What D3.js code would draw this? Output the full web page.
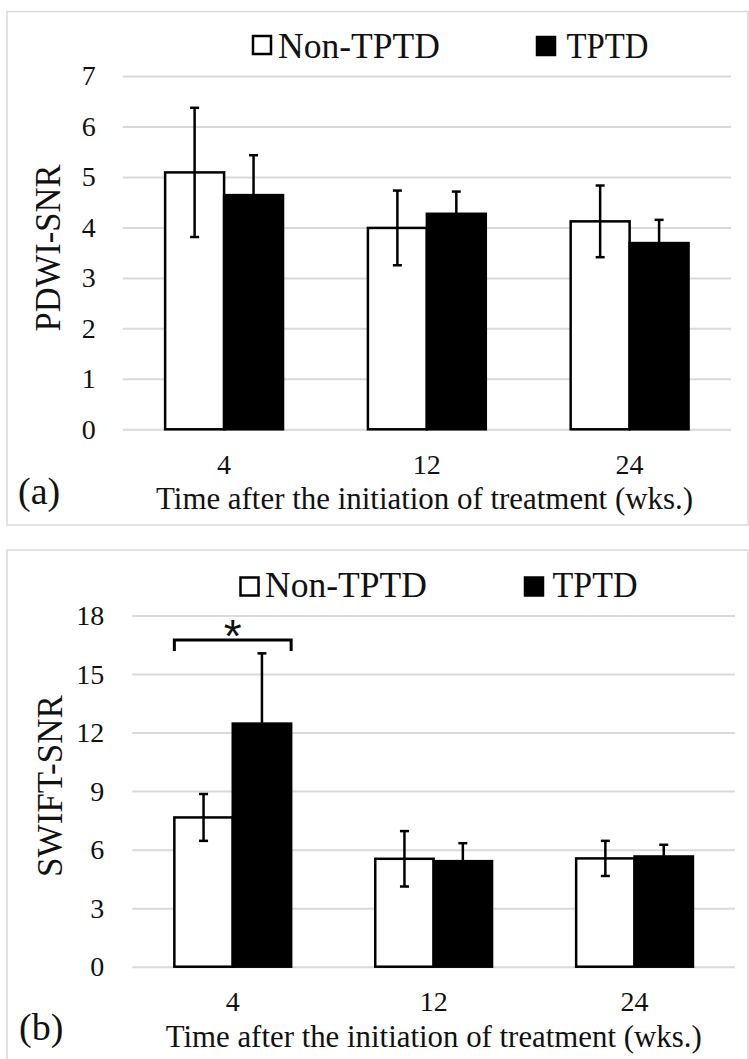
<!DOCTYPE html>
<html>
<head>
<meta charset="utf-8">
<script src="https://cdn.jsdelivr.net/npm/d3@7"></script>
<style>
  body { margin: 0; background: #fff; }
  text { font-family: "Liberation Serif", "Times New Roman", serif; fill: #111; }
</style>
</head>
<body>
<script>
// values: mean and SD for each time point
var weeks = ["4", "12", "24"];
var groups = ["Non-TPTD", "TPTD"];

var pdwiNon = [5.09, 3.99, 4.12];
var pdwiNonSd = [1.28, 0.74, 0.71];
var pdwiTptd = [4.64, 4.27, 3.69];
var pdwiTptdSd = [0.79, 0.44, 0.46];
var pdwiTicks = [0, 1, 2, 3, 4, 5, 6, 7];

var swiftNon = [7.65, 5.53, 5.55];
var swiftNonSd = [1.2, 1.42, 0.9];
var swiftTptd = [12.46, 5.41, 5.65];
var swiftTptdSd = [3.6, 0.92, 0.6];
var swiftTicks = [0, 3, 6, 9, 12, 15, 18];

// significance bracket drawn in (b)
var swiftSig = [{week: "4", level: 16.75, mark: "*"}];

var xTitle = "Time after the initiation of treatment (wks.)";

var W = 749, H = 1059;
var svg = d3.select("body").append("svg")
    .attr("width", W)
    .attr("height", H);

function panel(o) {
  var g = svg.append("g");

  // light grey frame round each panel
  g.append("rect")
    .attr("x", o.frame[0]).attr("y", o.frame[1])
    .attr("width", o.frame[2]).attr("height", o.frame[3])
    .attr("fill", "none")
    .attr("stroke", "#d9d9d9")
    .attr("stroke-width", 1.5);

  var x = d3.scaleBand().domain(weeks).range([o.left, o.right]);
  var barW = x.bandwidth() / (2 + 1.44);   // excel gap width ~144%
  var off = (x.bandwidth() - 2 * barW) / 2;
  var x1 = d3.scaleBand().domain(groups).range([0, 2 * barW]);
  var y = d3.scaleLinear().domain([0, d3.max(o.ticks)]).range([o.bottom, o.top]);

  // y axis + gridlines
  var ya = g.append("g")
    .attr("transform", "translate(" + o.left + ",0)")
    .call(d3.axisLeft(y).tickValues(o.ticks).tickFormat(d3.format("d"))
      .tickSize(-(o.right - o.left)).tickPadding(o.tickPad));
  ya.select(".domain").remove();
  ya.selectAll("line").attr("stroke", "#d9d9d9").attr("stroke-width", 2);
  ya.selectAll("text")
    .attr("fill", null)
    .style("font-size", "28px")
    .style("font-family", "'Liberation Serif', serif");

  // x axis labels
  var xa = g.append("g")
    .attr("transform", "translate(0," + o.bottom + ")")
    .call(d3.axisBottom(x).tickSize(0));
  xa.select(".domain").remove();
  xa.selectAll("text")
    .attr("fill", null)
    .attr("y", o.xTickDy)
    .attr("dy", 0)
    .style("font-size", "28px")
    .style("font-family", "'Liberation Serif', serif");

  var rows = weeks.map(function (w, i) {
    return {week: w, vals: [
      {k: "Non-TPTD", v: o.non[i], sd: o.nonSd[i]},
      {k: "TPTD", v: o.tptd[i], sd: o.tptdSd[i]}
    ]};
  });

  var grp = g.selectAll(".grp")
    .data(rows)
    .enter().append("g")
      .attr("class", "grp")
      .attr("transform", function (d) { return "translate(" + (x(d.week) + off) + ",0)"; });

  grp.selectAll("rect")
    .data(function (d) { return d.vals; })
    .enter().append("rect")
      .attr("x", function (d) { return x1(d.k); })
      .attr("y", function (d) { return y(d.v); })
      .attr("width", barW)
      .attr("height", function (d) { return y(0) - y(d.v); })
      .attr("fill", function (d) { return d.k == "TPTD" ? "#000" : "#fff"; })
      .attr("stroke", "#000")
      .attr("stroke-width", 2.5);

  // error bars
  var eb = grp.selectAll(".eb")
    .data(function (d) { return d.vals; })
    .enter().append("g")
      .attr("class", "eb")
      .attr("transform", function (d) { return "translate(" + (x1(d.k) + barW / 2) + ",0)"; })
      .attr("stroke", "#000")
      .attr("stroke-width", 2.5);
  eb.append("line")
    .attr("y1", function (d) { return y(d.v - d.sd); })
    .attr("y2", function (d) { return y(d.v + d.sd); });
  eb.append("line")
    .attr("x1", -4.5).attr("x2", 4.5)
    .attr("y1", function (d) { return y(d.v + d.sd); })
    .attr("y2", function (d) { return y(d.v + d.sd); });
  eb.append("line")
    .attr("x1", -4.5).attr("x2", 4.5)
    .attr("y1", function (d) { return y(d.v - d.sd); })
    .attr("y2", function (d) { return y(d.v - d.sd); });

  // significance
  (o.sig || []).forEach(function (s) {
    var a = x(s.week) + off, b = a + 2 * barW, yy = y(s.level);
    g.append("path")
      .attr("d", "M" + a + "," + (yy + 11) + "V" + yy + "H" + b + "V" + (yy + 11))
      .attr("fill", "none")
      .attr("stroke", "#000")
      .attr("stroke-width", 3);
    g.append("text")
      .attr("x", (a + b) / 2)
      .attr("y", yy + 12)
      .attr("text-anchor", "middle")
      .style("font-family", "'Liberation Sans', Arial, sans-serif")
      .style("font-size", "46px")
      .text(s.mark);
  });

  // axis titles
  g.append("text")
    .attr("x", o.xTitle[0]).attr("y", o.xTitle[1])
    .attr("textLength", o.xTitle[2])
    .attr("lengthAdjust", "spacingAndGlyphs")
    .style("font-size", "32px")
    .text(xTitle);

  g.append("text")
    .attr("transform", "translate(" + o.yTitle[0] + "," + o.yTitle[1] + ")rotate(-90)")
    .attr("text-anchor", "middle")
    .attr("textLength", o.yTitle[2])
    .attr("lengthAdjust", "spacingAndGlyphs")
    .style("font-size", "35px")
    .text(o.yLabel);

  g.append("text")
    .attr("x", o.letter[0]).attr("y", o.letter[1])
    .style("font-size", "38px")
    .text(o.letterText);

  // legend
  groups.forEach(function (k, i) {
    var L = o.legend[i];
    g.append("rect")
      .attr("x", L[0]).attr("y", L[1])
      .attr("width", 18).attr("height", 18)
      .attr("fill", k == "TPTD" ? "#000" : "#fff")
      .attr("stroke", "#000")
      .attr("stroke-width", 2.5);
    g.append("text")
      .attr("x", L[2]).attr("y", L[3])
      .attr("textLength", L[4])
      .attr("lengthAdjust", "spacingAndGlyphs")
      .style("font-size", "35px")
      .text(k);
  });
}

panel({
  frame: [7, 11.5, 741, 513.5],
  left: 122.7, right: 731, top: 76, bottom: 429.3,
  ticks: pdwiTicks, tickPad: 27,
  non: pdwiNon, nonSd: pdwiNonSd, tptd: pdwiTptd, tptdSd: pdwiTptdSd,
  xTickDy: 44.5,
  xTitle: [156, 509, 537],
  yLabel: "PDWI-SNR", yTitle: [60, 248, 167],
  letterText: "(a)", letter: [18, 504],
  legend: [[253, 36, 278, 57.5, 162], [537, 37, 566.5, 57.5, 82]]
});

panel({
  frame: [7, 550, 741, 530],
  left: 132.3, right: 735, top: 615.5, bottom: 966.7,
  ticks: swiftTicks, tickPad: 28,
  non: swiftNon, nonSd: swiftNonSd, tptd: swiftTptd, tptdSd: swiftTptdSd,
  sig: swiftSig,
  xTickDy: 44.5,
  xTitle: [165.7, 1046.5, 536],
  yLabel: "SWIFT-SNR", yTitle: [62, 786, 182],
  letterText: "(b)", letter: [19, 1040],
  legend: [[240.5, 577.5, 265, 597, 162], [525, 577.5, 552.5, 597, 85]]
});
</script>
</body>
</html>
